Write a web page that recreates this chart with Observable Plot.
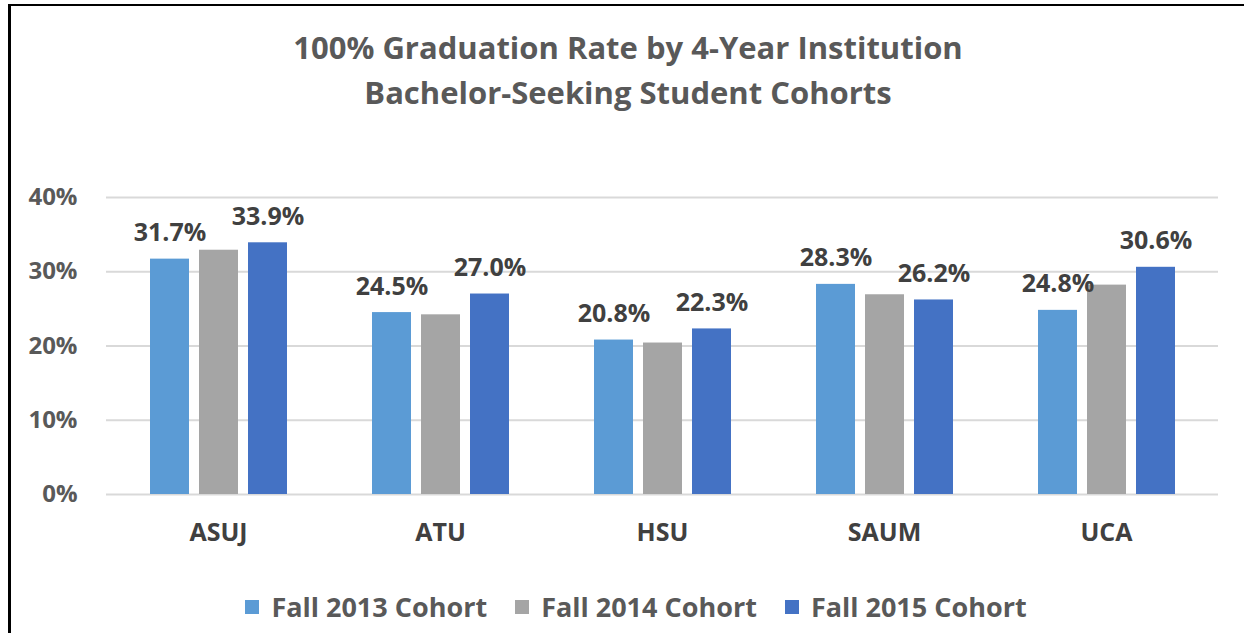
<!DOCTYPE html>
<html>
<head>
<meta charset="utf-8">
<script src="https://cdn.jsdelivr.net/npm/d3@7"></script>
<script src="https://cdn.jsdelivr.net/npm/@observablehq/plot@0.6"></script>
<style>
  html, body { margin: 0; padding: 0; background: #fff; }
  body { width: 1244px; height: 633px; position: relative; overflow: hidden; font-family: "Open Sans", sans-serif; }
  #frame { position: absolute; left: 8px; top: 4px; width: 1240px; height: 700px; border-left: 3px solid #000; border-top: 2px solid #000; }
  #title { position: absolute; left: 0; top: 25px; width: 1256px; text-align: center; font-weight: bold; font-size: 31px; line-height: 45px; color: #595959; }
  #bg, #fg { position: absolute; left: 0; top: 150px; }
  #legend { position: absolute; left: 14px; top: 588px; width: 1244px; display: flex; justify-content: center; gap: 28px; font-weight: bold; font-size: 27px; color: #595959; }
  .item { display: flex; align-items: center; gap: 12px; }
  .sw { width: 14px; height: 14px; display: inline-block; }
</style>
</head>
<body>
<div id="frame"></div>
<div id="title">100% Graduation Rate by 4-Year Institution<br>Bachelor-Seeking Student Cohorts</div>
<div id="bg"></div>
<div id="fg"></div>
<div id="legend"></div>
<script>
const institutions = ["ASUJ", "ATU", "HSU", "SAUM", "UCA"];
const cohorts = ["Fall 2013 Cohort", "Fall 2014 Cohort", "Fall 2015 Cohort"];
const fall2013 = [0.317, 0.245, 0.208, 0.283, 0.248];
const fall2014 = [0.329, 0.242, 0.204, 0.269, 0.282];
const fall2015 = [0.339, 0.270, 0.223, 0.262, 0.306];
const labelledCohorts = ["Fall 2013 Cohort", "Fall 2015 Cohort"];
const yTicks = [0, 0.1, 0.2, 0.3, 0.4];
const colors = ["#5B9BD5", "#A5A5A5", "#4472C4"];

const series = [fall2013, fall2014, fall2015];
const rows = [];
institutions.forEach((inst, i) => {
  cohorts.forEach((c, j) => rows.push({institution: inst, cohort: c, value: series[j][i]}));
});

const W = 1244, H = 420;
const margins = {marginLeft: 106, marginRight: 26, marginTop: 47, marginBottom: 76};
const font = "'Open Sans', sans-serif";

// background: gridlines + y axis, continuous across the groups
const bg = Plot.plot({
  width: W, height: H, ...margins,
  style: {fontFamily: font, fontSize: "24px", fontWeight: "bold", color: "#595959", background: "transparent"},
  y: {domain: [0, 0.4], ticks: yTicks, tickFormat: d3.format(".0%"), tickSize: 0, tickPadding: 29, label: null},
  x: {axis: null},
  marks: [
    Plot.ruleY(yTicks, {stroke: "#d9d9d9", strokeWidth: 2})
  ]
});
document.getElementById("bg").appendChild(bg);

// foreground: grouped bars via facets
const fg = Plot.plot({
  width: W, height: H, ...margins,
  style: {fontFamily: font, background: "transparent"},
  fx: {domain: institutions, paddingInner: 0.38, paddingOuter: 0.19, axis: null, label: null},
  x: {domain: cohorts, paddingInner: 0.21, paddingOuter: 0, axis: null},
  y: {domain: [0, 0.4], axis: null},
  color: {domain: cohorts, range: colors},
  marks: [
    Plot.barY(rows, {fx: "institution", x: "cohort", y: "value", fill: "cohort"}),
    Plot.text(rows.filter(d => labelledCohorts.includes(d.cohort)), {
      fx: "institution", x: "cohort", y: "value",
      text: d => d3.format(".1%")(d.value),
      lineAnchor: "bottom", dy: -18,
      fontSize: 25, fontWeight: "bold", fill: "#404040"
    }),
    Plot.text(institutions, {
      fx: d => d, text: d => d, frameAnchor: "bottom", lineAnchor: "middle", dy: 38,
      fontSize: 25, fontWeight: "bold", fill: "#404040"
    })
  ]
});
document.getElementById("fg").appendChild(fg);

const legend = document.getElementById("legend");
cohorts.forEach((c, i) => {
  const it = document.createElement("div");
  it.className = "item";
  const sw = document.createElement("span");
  sw.className = "sw";
  sw.style.background = colors[i];
  const t = document.createElement("span");
  t.textContent = c;
  it.appendChild(sw); it.appendChild(t);
  legend.appendChild(it);
});
</script>
</body>
</html>
